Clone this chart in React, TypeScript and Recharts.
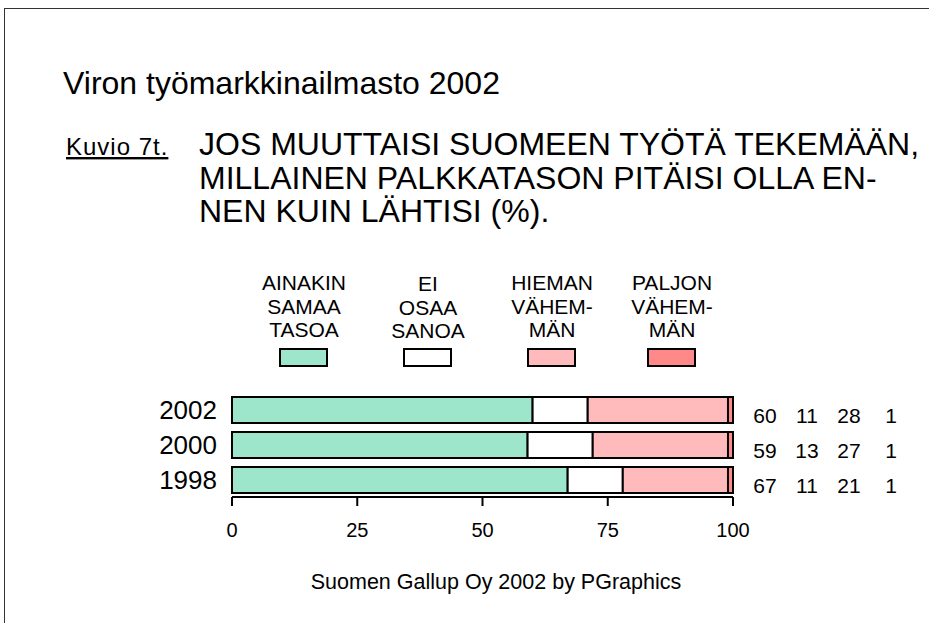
import React from "react";
import { Bar, BarChart, LabelList, XAxis, YAxis } from "recharts";

// Viron työmarkkinailmasto 2002 – kuvio 7t (palkkatason odotus, %)

const YEARS = ["2002", "2000", "1998"];
const AINAKIN = [60, 59, 67];
const EI_OSAA = [11, 13, 11];
const HIEMAN = [28, 27, 21];
const PALJON = [1, 1, 1];
const X_TICKS = [0, 25, 50, 75, 100];

const SERIES = [
  { key: "ainakin", lines: ["AINAKIN", "SAMAA", "TASOA"], fill: "#9de6cb" },
  { key: "eiOsaa", lines: ["EI", "OSAA", "SANOA"], fill: "#ffffff" },
  { key: "hieman", lines: ["HIEMAN", "VÄHEM-", "MÄN"], fill: "#ffbbbb" },
  { key: "paljon", lines: ["PALJON", "VÄHEM-", "MÄN"], fill: "#ff8888" },
];

const HEADING = [
  "JOS MUUTTAISI SUOMEEN TYÖTÄ TEKEMÄÄN,",
  "MILLAINEN PALKKATASON PITÄISI OLLA EN-",
  "NEN KUIN LÄHTISI (%).",
];

const FONT = "'Liberation Sans', Arial, sans-serif";

const data = YEARS.map((year, i) => ({
  year,
  ainakin: AINAKIN[i],
  eiOsaa: EI_OSAA[i],
  hieman: HIEMAN[i],
  paljon: PALJON[i],
}));

// numerot palkkien oikealla puolella, neljä saraketta
function RowValues(props: any) {
  const { x, y, width, height, value } = props;
  const row = data.find((d) => d.year === value);
  if (!row) return null;
  const vals = [row.ainakin, row.eiOsaa, row.hieman, row.paljon];
  const right = x + width;
  const cy = y + height / 2 + 5;
  return (
    <g>
      {vals.map((v, i) => (
        <text
          key={i}
          x={right + 32 + i * 42}
          y={cy + 7.5}
          textAnchor="middle"
          fontSize={21}
          fontFamily={FONT}
          fill="#000"
        >
          {v}
        </text>
      ))}
    </g>
  );
}

const LEGEND_X = [304, 428, 552, 672];

export default function App() {
  return (
    <div
      style={{
        position: "absolute",
        left: 0,
        top: 0,
        width: 929,
        height: 623,
        overflow: "hidden",
        background: "#fff",
        fontFamily: FONT,
      }}
    >
      <div
        style={{
          position: "absolute",
          left: 4,
          top: 8,
          width: 1000,
          height: 1000,
          border: "1.5px solid #333",
        }}
      />
      <div style={{ position: "absolute", left: 0, top: 0 }}>
        <BarChart
          width={929}
          height={623}
          data={data}
          layout="vertical"
          margin={{ top: 392, right: 196, bottom: 86, left: 170 }}
          barSize={26}
        >
          <XAxis
            type="number"
            domain={[0, 100]}
            ticks={X_TICKS}
            height={40}
            axisLine={{ stroke: "#000", strokeWidth: 2 }}
            tickLine={{ stroke: "#000", strokeWidth: 2 }}
            tickSize={9}
            tickMargin={17}
            tick={{ fontSize: 20, fill: "#000", fontFamily: FONT }}
          />
          <YAxis
            type="category"
            dataKey="year"
            width={62}
            axisLine={false}
            tickLine={false}
            tickSize={0}
            tickMargin={15}
            tick={{ fontSize: 26, fill: "#000", fontFamily: FONT }}
          />
          {SERIES.map((s, i) => (
            <Bar
              key={s.key}
              dataKey={s.key}
              stackId="a"
              fill={s.fill}
              stroke="#000"
              strokeWidth={2}
              isAnimationActive={false}
            >
              {i === SERIES.length - 1 ? (
                <LabelList dataKey="year" content={RowValues} />
              ) : null}
            </Bar>
          ))}
        </BarChart>
      </div>
      <svg
        width={929}
        height={623}
        style={{ position: "absolute", left: 0, top: 0, pointerEvents: "none" }}
        fontFamily={FONT}
      >
        <text x={63} y={94} fontSize={32} fill="#000">
          Viron työmarkkinailmasto 2002
        </text>
        <text
          x={66}
          y={155}
          fontSize={24}
          letterSpacing={1}
          fill="#000"
          textDecoration="underline"
        >
          Kuvio 7t.
        </text>
        {HEADING.map((line, i) => (
          <text key={i} x={199} y={155 + i * 33.5} fontSize={32} fill="#000">
            {line}
          </text>
        ))}
        {SERIES.map((s, i) => (
          <g key={s.key}>
            {s.lines.map((l, j) => (
              <text
                key={j}
                x={LEGEND_X[i]}
                y={290 + j * 23.5 + (i === 1 ? 1 : 0)}
                fontSize={21}
                textAnchor="middle"
                fill="#000"
              >
                {l}
              </text>
            ))}
            <rect
              x={LEGEND_X[i] - 24}
              y={349}
              width={47}
              height={17}
              fill={s.fill}
              stroke="#000"
              strokeWidth={2}
            />
          </g>
        ))}
        <text x={496} y={589} fontSize={21.5} textAnchor="middle" fill="#000">
          Suomen Gallup Oy 2002 by PGraphics
        </text>
      </svg>
    </div>
  );
}
